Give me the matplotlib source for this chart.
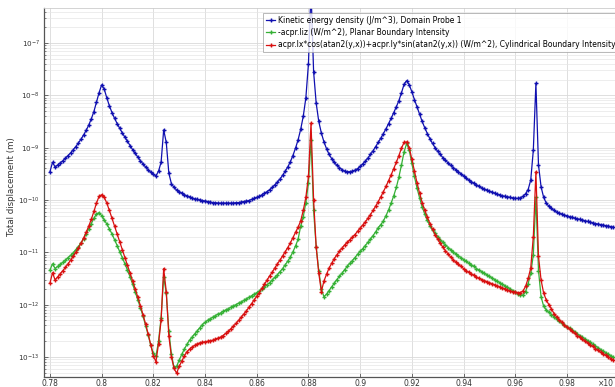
import matplotlib
matplotlib.use("Agg")
import matplotlib.pyplot as plt
import numpy as np

# frequency sweep (x 10^3), one sample every 0.001 starting at 0.780
F_START = 0.780
F_STEP = 0.001

# log10 of each series, rows of 10 samples: 0.78x, 0.79x, ...
kinetic_log = [
    -9.46, -9.28, -9.37, -9.33, -9.29, -9.25, -9.20, -9.15, -9.10, -9.04,
    -8.98, -8.91, -8.84, -8.76, -8.67, -8.57, -8.45, -8.31, -8.13, -7.95,
    -7.80, -7.88, -8.05, -8.20, -8.33, -8.44, -8.54, -8.63, -8.72, -8.80,
    -8.88, -8.96, -9.04, -9.11, -9.18, -9.25, -9.31, -9.37, -9.42, -9.47,
    -9.51, -9.54, -9.45, -9.28, -8.66, -8.90, -9.49, -9.69, -9.76, -9.81,
    -9.84, -9.87, -9.90, -9.92, -9.94, -9.96, -9.98, -9.99, -10.00, -10.01,
    -10.02, -10.03, -10.04, -10.05, -10.05, -10.06, -10.06, -10.06, -10.06, -10.06,
    -10.06, -10.06, -10.05, -10.05, -10.04, -10.03, -10.02, -10.01, -9.99, -9.97,
    -9.95, -9.93, -9.90, -9.87, -9.84, -9.80, -9.76, -9.71, -9.66, -9.60,
    -9.53, -9.45, -9.37, -9.27, -9.15, -9.01, -8.85, -8.65, -8.40, -8.05,
    -7.40, -6.00, -7.55, -8.15, -8.50, -8.72, -8.89, -9.02, -9.13, -9.21,
    -9.28, -9.34, -9.38, -9.42, -9.45, -9.46, -9.46, -9.45, -9.43, -9.40,
    -9.36, -9.31, -9.26, -9.20, -9.13, -9.06, -8.98, -8.90, -8.82, -8.73,
    -8.64, -8.54, -8.44, -8.33, -8.22, -8.10, -7.95, -7.79, -7.72, -7.80,
    -7.93, -8.08, -8.22, -8.36, -8.50, -8.62, -8.73, -8.83, -8.92, -9.00,
    -9.07, -9.13, -9.19, -9.24, -9.29, -9.34, -9.38, -9.42, -9.46, -9.50,
    -9.54, -9.58, -9.62, -9.65, -9.68, -9.71, -9.74, -9.77, -9.79, -9.81,
    -9.83, -9.85, -9.87, -9.89, -9.90, -9.92, -9.93, -9.94, -9.95, -9.96,
    -9.97, -9.97, -9.96, -9.93, -9.88, -9.80, -9.62, -9.05, -7.77, -9.33,
    -9.75, -9.95, -10.06, -10.12, -10.16, -10.20, -10.23, -10.25, -10.27, -10.29,
    -10.30, -10.32, -10.33, -10.35, -10.36, -10.37, -10.38, -10.40, -10.41, -10.42,
    -10.44, -10.45, -10.46, -10.47, -10.48, -10.49, -10.50, -10.51, -10.52,
]

planar_log = [
    -11.34, -11.22, -11.31, -11.27, -11.23, -11.19, -11.15, -11.10, -11.06, -11.01,
    -10.95, -10.89, -10.82, -10.74, -10.65, -10.55, -10.45, -10.35, -10.27, -10.24,
    -10.30, -10.38, -10.46, -10.55, -10.65, -10.76, -10.87, -10.99, -11.10, -11.22,
    -11.34, -11.47, -11.61, -11.76, -11.91, -12.06, -12.22, -12.40, -12.58, -12.78,
    -12.93, -12.99, -12.70, -12.25, -11.47, -11.78, -12.50, -12.95, -13.20, -13.18,
    -13.06, -12.95, -12.85, -12.76, -12.68, -12.62, -12.56, -12.50, -12.44, -12.38,
    -12.34, -12.30, -12.27, -12.24, -12.21, -12.18, -12.16, -12.13, -12.10, -12.08,
    -12.05, -12.02, -12.00, -11.97, -11.95, -11.92, -11.89, -11.86, -11.83, -11.80,
    -11.77, -11.74, -11.70, -11.66, -11.62, -11.58, -11.53, -11.48, -11.43, -11.37,
    -11.31, -11.24, -11.17, -11.09, -10.99, -10.88, -10.75, -10.50, -10.32, -10.05,
    -9.68, -8.85, -10.20, -10.90, -11.35, -11.70, -11.85, -11.80, -11.73, -11.66,
    -11.59, -11.52, -11.46, -11.40, -11.33, -11.27, -11.21, -11.16, -11.10, -11.04,
    -10.98, -10.93, -10.87, -10.81, -10.75, -10.68, -10.61, -10.53, -10.47, -10.40,
    -10.30, -10.19, -10.06, -9.92, -9.76, -9.56, -9.33, -9.08, -8.92, -9.05,
    -9.30, -9.55, -9.77, -9.96, -10.13, -10.27, -10.39, -10.49, -10.57, -10.64,
    -10.70, -10.76, -10.81, -10.86, -10.91, -10.95, -10.99, -11.03, -11.07, -11.10,
    -11.14, -11.17, -11.21, -11.24, -11.27, -11.31, -11.34, -11.37, -11.40, -11.43,
    -11.46, -11.49, -11.52, -11.55, -11.58, -11.61, -11.64, -11.67, -11.70, -11.73,
    -11.76, -11.79, -11.81, -11.82, -11.75, -11.60, -11.40, -11.05, -9.95, -11.35,
    -11.85, -12.03, -12.10, -12.15, -12.19, -12.23, -12.27, -12.31, -12.35, -12.39,
    -12.42, -12.45, -12.49, -12.52, -12.56, -12.59, -12.62, -12.66, -12.69, -12.72,
    -12.76, -12.79, -12.82, -12.86, -12.89, -12.92, -12.95, -12.98, -13.01,
]

cyl_log = [
    -11.59, -11.39, -11.53, -11.47, -11.41, -11.35, -11.29, -11.22, -11.15, -11.08,
    -11.00, -10.92, -10.83, -10.73, -10.62, -10.50, -10.37, -10.22, -10.06, -9.93,
    -9.90, -9.95, -10.06, -10.20, -10.35, -10.50, -10.65, -10.80, -10.95, -11.10,
    -11.25, -11.40, -11.55, -11.70, -11.86, -12.02, -12.19, -12.37, -12.56, -12.77,
    -12.98, -13.09, -12.75, -12.30, -11.31, -11.75, -12.60, -13.00, -13.22, -13.31,
    -13.18, -13.08, -12.98, -12.90, -12.85, -12.81, -12.78, -12.75, -12.73, -12.72,
    -12.71, -12.70, -12.69, -12.68, -12.66, -12.64, -12.62, -12.59, -12.55, -12.51,
    -12.46, -12.41, -12.36, -12.30, -12.24, -12.18, -12.12, -12.05, -11.98, -11.91,
    -11.84, -11.77, -11.69, -11.61, -11.53, -11.45, -11.38, -11.30, -11.22, -11.15,
    -11.07, -10.99, -10.91, -10.82, -10.72, -10.62, -10.52, -10.40, -10.20, -9.95,
    -9.55, -8.53, -10.00, -10.90, -11.40, -11.75, -11.55, -11.42, -11.30, -11.21,
    -11.12, -11.05, -10.98, -10.92, -10.86, -10.81, -10.76, -10.71, -10.66, -10.60,
    -10.54, -10.48, -10.42, -10.35, -10.28, -10.20, -10.12, -10.03, -9.94, -9.84,
    -9.74, -9.63, -9.52, -9.40, -9.28, -9.15, -9.01, -8.90, -8.89, -9.00,
    -9.22, -9.45, -9.67, -9.87, -10.05, -10.20, -10.33, -10.45, -10.56, -10.66,
    -10.75, -10.83, -10.90, -10.97, -11.03, -11.09, -11.14, -11.19, -11.23, -11.27,
    -11.31, -11.35, -11.38, -11.41, -11.44, -11.47, -11.50, -11.52, -11.54, -11.56,
    -11.58, -11.60, -11.62, -11.64, -11.66, -11.68, -11.70, -11.72, -11.74, -11.75,
    -11.76, -11.77, -11.77, -11.74, -11.65, -11.50, -11.30, -10.70, -9.46, -11.08,
    -11.53, -11.78, -11.91, -12.00, -12.08, -12.17, -12.23, -12.29, -12.34, -12.39,
    -12.43, -12.47, -12.51, -12.55, -12.59, -12.62, -12.66, -12.70, -12.73, -12.77,
    -12.80, -12.84, -12.87, -12.91, -12.94, -12.97, -13.00, -13.03, -13.06,
]

labels = [
    "Kinetic energy density (J/m^3), Domain Probe 1",
    "-acpr.Iiz (W/m^2), Planar Boundary Intensity",
    "acpr.Ix*cos(atan2(y,x))+acpr.Iy*sin(atan2(y,x)) (W/m^2), Cylindrical Boundary Intensity",
]
colors = ["#1010b0", "#35b035", "#d81010"]

x_ticks = [0.78, 0.80, 0.82, 0.84, 0.86, 0.88, 0.90, 0.92, 0.94, 0.96, 0.98]
x_ticklabels = ["0.78", "0.8", "0.82", "0.84", "0.86", "0.88", "0.9",
                "0.92", "0.94", "0.96", "0.98"]
y_exponents = [-7, -8, -9, -10, -11, -12, -13]

W, H = 615, 387
fig = plt.figure(figsize=(W / 100, H / 100), dpi=100)
ax = fig.add_axes([44 / W, 1 - 377 / H, 1 - 44 / W, (377 - 8) / H])

freq = F_START + F_STEP * np.arange(len(kinetic_log))
for vals, col, lab in zip([kinetic_log, planar_log, cyl_log], colors, labels):
    ax.plot(freq, 10.0 ** np.array(vals), color=col, lw=0.9, marker="+",
            ms=3.5, mew=1.0, label=lab)

ax.set_yscale("log")
ax.set_xlim(0.7777, 0.9986)
ax.set_ylim(10 ** -13.383, 10 ** -6.331)

ax.set_xticks(x_ticks)
ax.set_xticklabels(x_ticklabels)
ax.set_yticks([10.0 ** e for e in y_exponents])
ax.set_yticklabels([f"$10^{{{e}}}$" for e in y_exponents])
ax.tick_params(axis="both", which="both", direction="in", labelsize=5.5,
               labelcolor="#333333", color="#555555")
ax.tick_params(axis="both", which="major", length=3, width=0.6)
ax.tick_params(axis="x", which="major", pad=1.5)
ax.tick_params(axis="y", which="major", pad=3, labelsize=5.2)
ax.tick_params(axis="y", which="minor", length=1.5, width=0.5)
ax.tick_params(axis="y", which="minor", labelleft=False)

ax.grid(True, which="major", axis="both", color="#d9d9d9", lw=0.6)
ax.grid(True, which="minor", axis="y", color="#e6e6e6", lw=0.5)
ax.set_axisbelow(True)

for side in ["left", "bottom"]:
    ax.spines[side].set_color("#555555")
    ax.spines[side].set_linewidth(0.9)
ax.spines["top"].set_color("#cccccc")
ax.spines["top"].set_linewidth(0.6)
ax.spines["right"].set_visible(False)

fig.text(12 / W, 1 - 187 / H, "Total displacement (m)", rotation=90,
         ha="center", va="center", fontsize=6.2, color="#333333")
fig.text(598 / W, 1 - 383 / H, "×10", ha="left", va="center",
         fontsize=5.5, color="#333333")

leg = ax.legend(loc="upper left", bbox_to_anchor=(263 / W, 1 - 12.5 / H),
                bbox_transform=fig.transFigure, fontsize=5.5, numpoints=1,
                frameon=True, fancybox=False, handlelength=1.2,
                handletextpad=0.4, labelspacing=0.45, borderpad=0.4,
                borderaxespad=0)
leg.get_frame().set_edgecolor("#999999")
leg.get_frame().set_linewidth(0.6)

fig.savefig("out.png", dpi=100)
